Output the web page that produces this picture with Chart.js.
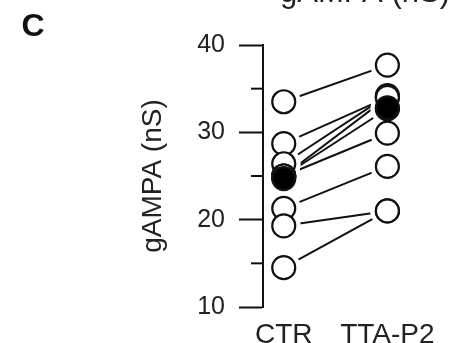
<!DOCTYPE html>
<html>
<head>
<meta charset="utf-8">
<script src="https://cdn.jsdelivr.net/npm/chart.js@4/dist/chart.umd.min.js"></script>
<style>
  html, body { margin: 0; padding: 0; background: #fff; }
  #wrap { width: 450px; height: 343px; }
</style>
</head>
<body>
<div id="wrap"><canvas id="chart"></canvas></div>
<script>
// groups on the x axis
const categories = ['CTR', 'TTA-P2'];
// paired cells, gAMPA (nS)
const ctrValues = [33.5, 28.7, 26.4, 25.0, 25.0, 25.0, 21.3, 19.3, 14.5];
const ttaValues = [37.7, 34.0, 34.2, 34.0, 32.7, 29.9, 26.1, 21.0, 21.0];
// group means (filled circles)
const meanValues = [24.7, 32.8];
// y axis
const yTicks = [10, 20, 30, 40];
const yMinorTicks = [15, 25, 35];

const INK = '#111';
const FONT = "'Liberation Sans', Arial, sans-serif";

const pairs = ctrValues.map((v, i) => [{x: 0, y: v}, {x: 1, y: ttaValues[i]}]);
const allPoints = pairs.flat();

const datasets = [];
pairs.forEach(p => {
  datasets.push({
    type: 'line', data: p, borderColor: INK, borderWidth: 2,
    pointRadius: 0, fill: false, order: 3
  });
});
// white halo so the lines stop short of the circles
datasets.push({
  type: 'scatter', data: allPoints, pointRadius: 17,
  pointBackgroundColor: '#fff', pointBorderWidth: 0, order: 2
});
datasets.push({
  type: 'scatter', data: allPoints, pointRadius: 11.5,
  pointBackgroundColor: '#fff', pointBorderColor: INK, pointBorderWidth: 2.2, order: 1
});
datasets.push({
  type: 'scatter', data: meanValues.map((v, i) => ({x: i, y: v})), pointRadius: 11.5,
  pointBackgroundColor: '#000', pointBorderColor: INK, pointBorderWidth: 2.2, order: 0
});

const extras = {
  id: 'extras',
  afterDraw(chart) {
    const ctx = chart.ctx;
    const ys = chart.scales.y;
    ctx.save();
    // short minor ticks
    ctx.strokeStyle = INK;
    ctx.lineWidth = 2;
    yMinorTicks.forEach(v => {
      const py = ys.getPixelForValue(v);
      ctx.beginPath();
      ctx.moveTo(ys.right - 12, py);
      ctx.lineTo(ys.right, py);
      ctx.stroke();
    });
    // panel letter
    ctx.fillStyle = '#111';
    ctx.font = 'bold 32px ' + FONT;
    ctx.textAlign = 'center';
    ctx.textBaseline = 'middle';
    ctx.fillText('C', 33, 27);
    // title of the panel above, mostly cut off
    ctx.fillStyle = '#222';
    ctx.font = '31px ' + FONT;
    ctx.textAlign = 'left';
    ctx.textBaseline = 'alphabetic';
    ctx.fillText('gAMPA (nS)', 280, 2);
    ctx.restore();
  }
};

new Chart(document.getElementById('chart'), {
  data: { datasets: datasets },
  options: {
    responsive: true,
    maintainAspectRatio: false,
    animation: false,
    layout: { padding: { top: 45, left: 128, right: 31, bottom: 0 } },
    plugins: { legend: { display: false }, tooltip: { enabled: false } },
    scales: {
      x: {
        type: 'linear', min: -0.2, max: 1.2,
        afterBuildTicks: s => { s.ticks = categories.map((c, i) => ({value: i})); },
        afterFit: s => { s.height = 36; },
        grid: { display: false, drawTicks: false },
        border: { display: false },
        ticks: {
          callback: v => categories[v],
          color: '#222', padding: 11, maxRotation: 0, autoSkip: false,
          font: { family: FONT, size: 28 }
        }
      },
      y: {
        type: 'linear', min: 10, max: 40,
        afterBuildTicks: s => { s.ticks = yTicks.map(v => ({value: v})); },
        afterFit: s => { s.width = 135; },
        grid: { drawOnChartArea: false, tickLength: 24, tickColor: INK, tickWidth: 2 },
        border: { color: INK, width: 2 },
        ticks: { color: '#222', padding: 14, font: { family: FONT, size: 25 } },
        title: {
          display: true, text: 'gAMPA (nS)', color: '#222',
          padding: { top: 8, bottom: 0 },
          font: { family: FONT, size: 28 }
        }
      }
    }
  },
  plugins: [extras]
});
</script>
</body>
</html>
